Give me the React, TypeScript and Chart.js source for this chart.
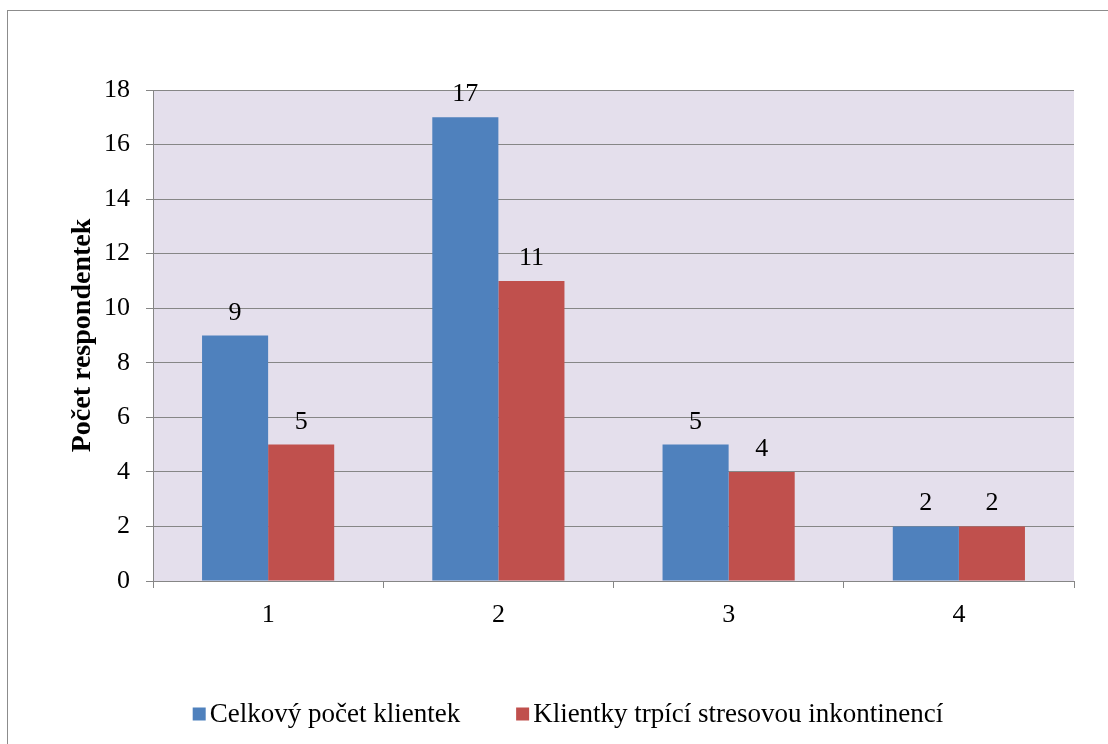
import React, { useEffect, useRef } from 'react';
import { Chart, registerables } from 'chart.js';

Chart.register(...registerables);

const categories = ['1', '2', '3', '4'];
const totalClients = [9, 17, 5, 2];
const incontinenceClients = [5, 11, 4, 2];
const seriesNames = ['Celkový počet klientek', 'Klientky trpící stresovou inkontinencí'];
const seriesColors = ['#4F81BD', '#C0504D'];
const yMin = 0;
const yMax = 18;
const yStep = 2;
const yAxisTitle = 'Počet respondentek';

const FONT = '"Liberation Serif", "Times New Roman", serif';
const GRID = '#868686';

const framePlugin = {
  id: 'frame',
  beforeDraw(chart: any) {
    const ctx = chart.ctx;
    const { left, top, right, bottom } = chart.chartArea;
    ctx.save();
    ctx.fillStyle = '#ffffff';
    ctx.fillRect(0, 0, chart.width, chart.height);
    ctx.strokeStyle = '#8c8c8c';
    ctx.lineWidth = 1;
    ctx.strokeRect(7.5, 10.5, chart.width + 100, chart.height + 100);
    ctx.fillStyle = '#E4DFEC';
    ctx.fillRect(left, top, right - left, bottom - top);
    ctx.restore();
  },
};

const valueLabelPlugin = {
  id: 'valueLabels',
  afterDatasetsDraw(chart: any) {
    const ctx = chart.ctx;
    ctx.save();
    ctx.font = `26px ${FONT}`;
    ctx.fillStyle = '#000';
    ctx.textAlign = 'center';
    ctx.textBaseline = 'alphabetic';
    chart.data.datasets.forEach((ds: any, i: number) => {
      const meta = chart.getDatasetMeta(i);
      meta.data.forEach((el: any, j: number) => {
        ctx.fillText(String(ds.data[j]), el.x, el.y - 16);
      });
    });
    ctx.restore();
  },
};

const legendPlugin = {
  id: 'customLegend',
  afterDraw(chart: any) {
    const ctx = chart.ctx;
    ctx.save();
    ctx.font = `27px ${FONT}`;
    const box = 13;
    const gap = 4;
    const itemGap = 56;
    const widths = seriesNames.map((n) => ctx.measureText(n).width);
    const total = widths.reduce((a, w) => a + box + gap + w, 0) + itemGap * (seriesNames.length - 1);
    const centerX = 568;
    const cy = 714;
    let x = centerX - total / 2;
    seriesNames.forEach((name, i) => {
      ctx.fillStyle = seriesColors[i];
      ctx.fillRect(x, cy - box / 2, box, box);
      ctx.fillStyle = '#000';
      ctx.textAlign = 'left';
      ctx.textBaseline = 'middle';
      ctx.fillText(name, x + box + gap, cy + 1);
      x += box + gap + widths[i] + itemGap;
    });
    ctx.restore();
  },
};

export default function App() {
  const ref = useRef<HTMLCanvasElement | null>(null);
  useEffect(() => {
    if (!ref.current) return;
    let chart: Chart | null = null;
    let cancelled = false;
    const build = () => {
      if (cancelled || !ref.current) return;
      chart = new Chart(ref.current, {
        type: 'bar',
        data: {
          labels: categories,
          datasets: [
            {
              label: seriesNames[0],
              data: totalClients,
              backgroundColor: seriesColors[0],
              borderWidth: 0,
              categoryPercentage: 0.574,
              barPercentage: 1,
            },
            {
              label: seriesNames[1],
              data: incontinenceClients,
              backgroundColor: seriesColors[1],
              borderWidth: 0,
              categoryPercentage: 0.574,
              barPercentage: 1,
            },
          ],
        },
        options: {
          responsive: false,
          animation: false,
          devicePixelRatio: 1,
          layout: { padding: { left: 66, right: 34, top: 90, bottom: 103 } },
          plugins: {
            legend: { display: false },
            tooltip: { enabled: false },
          },
          scales: {
            x: {
              offset: true,
              grid: {
                offset: true,
                drawOnChartArea: false,
                drawTicks: true,
                tickLength: 7,
                color: GRID,
              },
              border: { display: true, color: GRID, width: 1 },
              ticks: {
                color: '#000',
                font: { family: FONT, size: 26 },
                padding: 12,
              },
              afterFit(scale: any) {
                scale.height = 60;
              },
            },
            y: {
              min: yMin,
              max: yMax,
              ticks: {
                stepSize: yStep,
                color: '#000',
                font: { family: FONT, size: 26 },
                padding: 16,
              },
              grid: {
                color: GRID,
                tickLength: 7,
                drawTicks: true,
              },
              border: { display: true, color: GRID, width: 1 },
              title: {
                display: true,
                text: yAxisTitle,
                color: '#000',
                font: { family: FONT, size: 28, weight: 'bold' },
                padding: { top: 0, bottom: 0 },
              },
              afterFit(scale: any) {
                scale.width = 87;
              },
            },
          },
        },
        plugins: [framePlugin, valueLabelPlugin, legendPlugin],
      });
    };
    const fonts: any = (document as any).fonts;
    if (fonts && fonts.load) {
      Promise.all([
        fonts.load('26px "Liberation Serif"'),
        fonts.load('bold 28px "Liberation Serif"'),
      ]).then(build, build);
    } else {
      build();
    }
    return () => {
      cancelled = true;
      if (chart) chart.destroy();
    };
  }, []);
  return (
    <div style={{ position: 'absolute', left: 0, top: 0, width: 1108, height: 744 }}>
      <canvas ref={ref} width={1108} height={744} style={{ display: 'block' }} />
    </div>
  );
}
